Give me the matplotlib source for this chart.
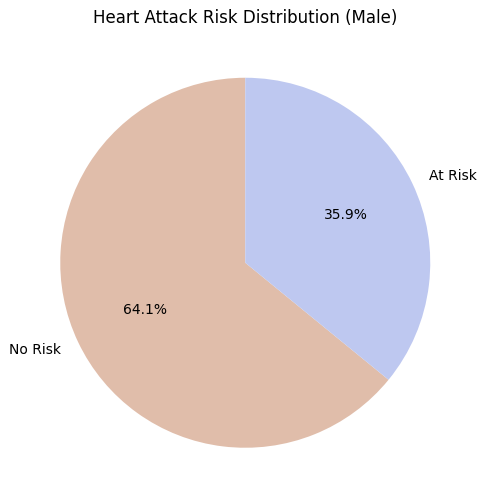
import matplotlib
matplotlib.use("Agg")
import matplotlib.pyplot as plt

labels = ["No Risk", "At Risk"]
values = [64.1, 35.9]
colors = ["#E0BDAA", "#BEC8F0"]

fig = plt.figure(figsize=(4.87, 5.04), dpi=100)
ax = fig.add_axes([14/487, 10/504, 462.5/487, 462.5/504])
ax.pie(values, labels=labels, colors=colors, autopct="%1.1f%%", startangle=90)
ax.set_aspect("equal")
fig.text(245/487, 1 - 18/504, "Heart Attack Risk Distribution (Male)", ha="center", va="center", fontsize=12)
fig.savefig("out.png", dpi=100)
